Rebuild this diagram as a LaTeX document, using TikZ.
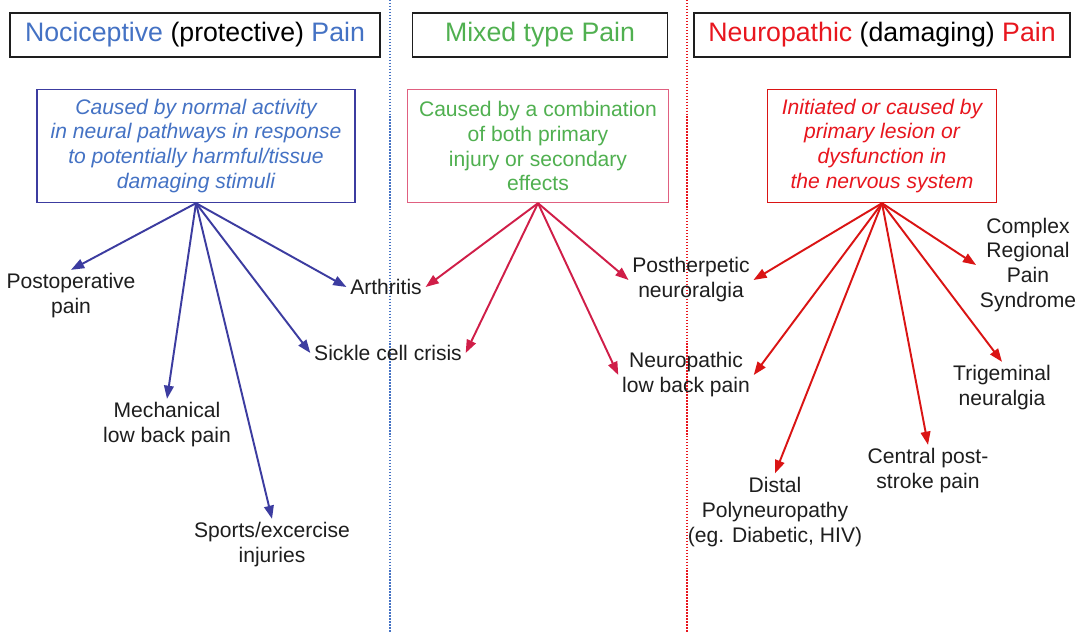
\documentclass[tikz,border=0pt]{standalone}
\usepackage{fontspec}
\setmainfont{Liberation Sans}
\usetikzlibrary{arrows.meta}

\definecolor{nociblue}{RGB}{68,114,196}
\definecolor{nociline}{RGB}{60,60,160}
\definecolor{mixgreen}{RGB}{80,176,80}
\definecolor{mixpink}{RGB}{224,96,128}
\definecolor{mixarrow}{RGB}{208,30,72}
\definecolor{neured}{RGB}{232,22,30}
\definecolor{neuarrow}{RGB}{218,20,20}
\definecolor{ink}{RGB}{30,30,30}

\tikzset{
    titlebox/.style={draw=ink, line width=1.1pt, minimum height=0.88cm,
        font=\fontsize{15.2}{18}\selectfont},
    descbox/.style={draw, line width=0.8pt, minimum height=2.26cm, align=center,
        font=\fontsize{12}{14.2}\selectfont},
    item/.style={align=center, text=ink, inner sep=2pt,
        font=\fontsize{12}{14.2}\selectfont},
    arr/.style={line width=1.1pt, -{Triangle[length=7.5pt,width=5.5pt]}},
    divider/.style={line width=1.5pt, dash pattern=on 0.8pt off 0.9pt},
}

\begin{document}
\begin{tikzpicture}[x=0.02cm, y=-0.02cm]
    \useasboundingbox (0,0) rectangle (1084,633);
    \fill[white] (0,0) rectangle (1084,633);

    % column dividers
    \draw[divider, nociblue] (390,0) -- (390,633);
    \draw[divider, neured] (687,0) -- (687,633);

    % headings
    \node[titlebox, minimum width=7.4cm] (tnoci) at (195,35)
        {\textcolor{nociblue}{Nociceptive} (protective) \textcolor{nociblue}{Pain}};
    \node[titlebox, minimum width=5.1cm, text=mixgreen] (tmix) at (540,35)
        {Mixed type Pain};
    \node[titlebox, minimum width=7.52cm] (tneu) at (882,35)
        {\textcolor{neured}{Neuropathic} (damaging) \textcolor{neured}{Pain}};

    % descriptions
    \node[descbox, draw=nociline, text=nociblue, minimum width=6.36cm] (dnoci) at (196,146)
        {\itshape Caused by normal activity\\ \itshape in neural pathways in response\\
         \itshape to potentially harmful/tissue\\ \itshape damaging stimuli};
    \node[descbox, draw=mixpink, text=mixgreen, minimum width=5.22cm] (dmix) at (538,146)
        {Caused by a combination\\ of both primary\\ injury or secondary\\ effects};
    \node[descbox, draw=neuarrow, text=neured, minimum width=4.58cm] (dneu) at (882,146)
        {\itshape Initiated or caused by\\ \itshape primary lesion or\\
         \itshape dysfunction in\\ \itshape the nervous system};

    % conditions
    \node[item] (postop) at (71,296) {Postoperative\\ pain};
    \node[item] (mech) at (167,425) {Mechanical\\ low back pain};
    \node[item] (sport) at (272,545) {Sports/excercise\\ injuries};
    \node[item] (sickle) at (388,353) {Sickle cell crisis};
    \node[item] (arth) at (386,287) {Arthritis};
    \node[item] (posther) at (691,280) {Postherpetic\\ neuroralgia};
    \node[item] (nlbp) at (686,375) {Neuropathic\\ low back pain};
    \node[item] (distal) at (775,512) {Distal\\ Polyneuropathy\\ (eg. Diabetic, HIV)};
    \node[item] (central) at (928,471) {Central post-\\ stroke pain};
    \node[item] (trig) at (1002,388) {Trigeminal\\ neuralgia};
    \node[item] (crps) at (1028,265) {Complex\\ Regional\\ Pain\\ Syndrome};

    % arrows
    \foreach \t/\a in {postop/north, mech/north, sport/north, sickle/west, arth/west}
        \draw[arr, nociline] (dnoci.south) -- (\t.\a);
    \foreach \t/\a in {arth/east, sickle/east, posther/west, nlbp/west}
        \draw[arr, mixarrow] (dmix.south) -- (\t.\a);
    \foreach \t/\a in {posther/east, nlbp/east, distal/north, central/north, trig/north, crps/west}
        \draw[arr, neuarrow] (dneu.south) -- (\t.\a);
\end{tikzpicture}
\end{document}
